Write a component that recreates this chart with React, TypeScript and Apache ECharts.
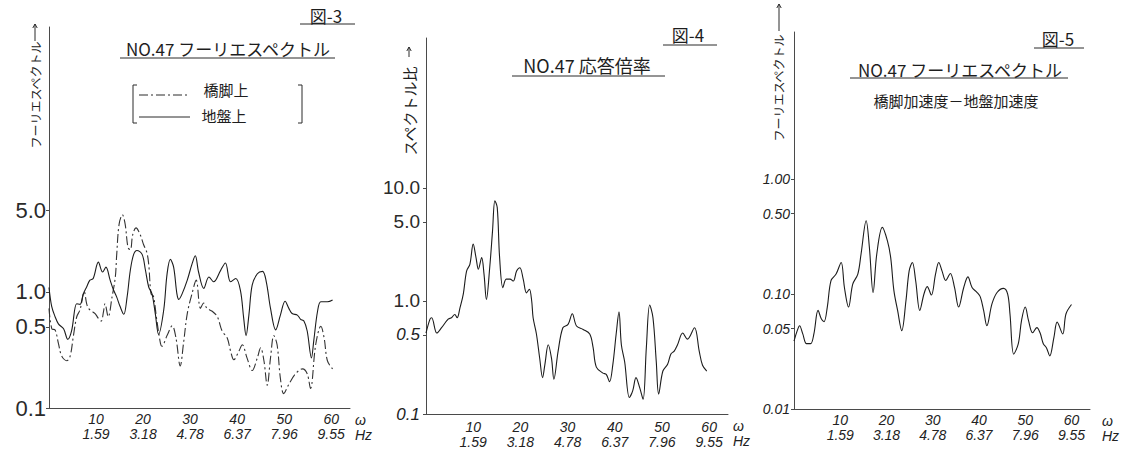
import React, { useEffect, useRef } from "react";
import * as echarts from "echarts";

// x axis: circular frequency ω (rad/s) with Hz equivalents
const omegaTicks = [10, 20, 30, 40, 50, 60];
const hzLabels = ["1.59", "3.18", "4.78", "6.37", "7.96", "9.55"];

// 図-3 y ticks
const fig3Ticks = [0.1, 0.5, 1, 5];
const fig3TickLabels = ["0.1", "0.5", "1.0", "5.0"];
// 図-4 y ticks
const fig4Ticks = [0.1, 0.5, 1, 5, 10];
const fig4TickLabels = ["0.1", "0.5", "1.0", "5.0", "10.0"];
// 図-5 y ticks
const fig5Ticks = [0.01, 0.05, 0.1, 0.5, 1];
const fig5TickLabels = ["0.01", "0.05", "0.10", "0.50", "1.00"];

// 図-3 橋脚上 (dash-dot) : [ω, spectrum]
const pierSpectrum: [number, number][] = [
  [0, 0.72], [0.6, 0.48], [1.3, 0.47], [2.0, 0.36], [2.7, 0.28], [3.8, 0.255], [4.5, 0.28],
  [5.2, 0.42], [5.9, 0.61], [6.6, 0.7], [7.5, 1.0], [8.0, 0.79], [8.4, 0.72], [9.1, 0.68],
  [9.8, 0.65], [10.5, 0.59], [11.1, 0.56], [11.6, 0.68], [11.9, 0.79], [12.6, 0.61],
  [13.4, 0.9], [14.1, 1.34], [14.4, 2.1], [14.9, 3.8], [15.6, 4.6], [16.2, 3.8], [16.8, 2.4],
  [17.3, 2.3], [17.8, 3.1], [18.5, 3.55], [19.4, 3.1], [20.1, 2.55], [20.8, 2.18], [21.2, 1.73],
  [21.7, 0.96], [22.2, 0.92], [22.9, 0.58], [23.7, 0.36], [24.0, 0.34], [25.1, 0.42],
  [26.2, 0.51], [27.0, 0.4], [27.9, 0.23], [28.6, 0.36], [29.4, 0.65], [30.4, 0.96],
  [31.3, 1.26], [32.2, 0.72], [32.9, 0.8], [33.6, 0.72], [34.7, 0.68], [35.8, 0.61],
  [36.8, 0.46], [37.9, 0.4], [38.6, 0.31], [39.3, 0.26], [40.4, 0.31], [41.1, 0.35],
  [42.1, 0.27], [43.2, 0.21], [44.3, 0.27], [45.0, 0.33], [45.7, 0.255], [46.4, 0.157],
  [47.1, 0.27], [47.8, 0.42], [48.5, 0.35], [49.2, 0.18], [49.9, 0.133], [51.0, 0.16],
  [52.4, 0.197], [53.9, 0.217], [54.9, 0.197], [55.6, 0.147], [56.7, 0.35], [57.8, 0.505],
  [58.5, 0.4], [59.2, 0.255], [60.3, 0.217],
];

// 図-3 地盤上 (solid)
const groundSpectrum: [number, number][] = [
  [0, 1.09], [0.57, 0.75], [1.3, 0.61], [2.0, 0.53], [3.1, 0.48], [4.0, 0.39], [4.8, 0.46],
  [5.9, 0.79], [6.6, 0.78], [7.3, 0.96], [8.0, 1.1], [8.7, 1.26], [9.4, 1.3], [10.5, 1.8],
  [11.4, 1.48], [12.1, 1.63], [13.0, 1.26], [13.7, 1.04], [14.4, 0.9], [15.1, 0.75],
  [15.9, 0.64], [16.6, 0.9], [17.3, 1.54], [18.0, 2.1], [18.7, 2.27], [19.8, 2.1],
  [20.5, 1.54], [21.2, 1.1], [21.9, 0.96], [22.6, 0.65], [23.3, 0.43], [24.4, 0.7],
  [25.1, 1.42], [25.8, 1.9], [26.5, 1.63], [27.2, 0.96], [27.6, 0.86], [28.3, 0.96],
  [29.4, 1.26], [30.4, 1.73], [31.1, 2.04], [31.8, 1.48], [32.9, 1.07], [34.0, 1.34],
  [35.0, 1.22], [36.5, 1.53], [37.5, 1.77], [38.6, 1.22], [39.7, 1.3], [40.7, 1.03],
  [41.4, 0.59], [41.9, 0.42], [42.5, 0.63], [43.2, 1.14], [44.3, 1.43], [45.4, 1.5],
  [46.2, 1.22], [47.1, 0.72], [48.2, 0.47], [49.2, 0.63], [50.2, 0.83], [51.0, 0.72],
  [51.7, 0.65], [52.8, 0.63], [53.5, 0.58], [54.2, 0.56], [54.9, 0.46], [55.8, 0.27],
  [56.3, 0.38], [57.1, 0.68], [57.8, 0.82], [59.2, 0.82], [60.3, 0.85],
];

// 図-4 応答倍率
const responseRatio: [number, number][] = [
  [0, 0.52], [0.85, 0.69], [1.2, 0.71], [2.3, 0.52], [3.3, 0.58], [4.7, 0.69], [5.4, 0.71],
  [6.1, 0.76], [6.6, 0.71], [7.2, 0.87], [7.9, 1.15], [8.6, 1.84], [9.3, 2.11], [10.0, 3.18],
  [10.6, 2.42], [11.1, 1.91], [11.8, 2.42], [12.3, 1.72], [12.8, 1.03], [13.5, 1.97],
  [14.1, 4.17], [14.6, 7.68], [15.1, 6.7], [15.6, 2.42], [16.3, 1.31], [17.0, 1.56],
  [17.8, 1.56], [18.5, 1.5], [19.2, 1.84], [19.9, 1.97], [20.6, 1.56], [21.3, 1.18],
  [21.9, 1.27], [22.4, 1.0], [22.7, 0.71], [23.4, 0.51], [24.1, 0.31], [24.7, 0.21],
  [25.2, 0.275], [25.9, 0.41], [26.6, 0.31], [27.1, 0.203], [28.0, 0.36], [29.0, 0.58],
  [30.1, 0.62], [31.0, 0.77], [31.9, 0.6], [33.3, 0.56], [34.7, 0.51], [35.4, 0.39],
  [36.1, 0.26], [37.5, 0.23], [38.2, 0.224], [38.9, 0.193], [39.6, 0.275], [40.3, 0.51],
  [40.9, 0.8], [41.4, 0.41], [42.1, 0.29], [43.1, 0.14], [43.8, 0.16], [44.5, 0.21],
  [45.3, 0.17], [46.0, 0.135], [46.7, 0.39], [47.4, 0.92], [48.1, 0.71], [48.8, 0.29],
  [49.3, 0.15], [50.2, 0.24], [51.2, 0.275], [51.9, 0.34], [52.6, 0.36], [53.3, 0.41],
  [54.4, 0.52], [55.4, 0.46], [56.9, 0.58], [57.9, 0.36], [58.6, 0.27], [59.5, 0.24],
];

// 図-5 橋脚加速度－地盤加速度
const accelDiffSpectrum: [number, number][] = [
  [0, 0.039], [0.7, 0.048], [1.2, 0.053], [1.9, 0.045], [2.7, 0.037], [3.6, 0.037],
  [4.3, 0.045], [5.2, 0.072], [5.9, 0.061], [6.5, 0.0575], [7.2, 0.077], [8.0, 0.131],
  [9.1, 0.149], [10.2, 0.188], [10.9, 0.114], [11.8, 0.077], [12.7, 0.122], [13.8, 0.149],
  [14.5, 0.223], [15.6, 0.434], [16.3, 0.254], [17.1, 0.103], [17.9, 0.223], [19.1, 0.38],
  [20.2, 0.29], [20.9, 0.208], [21.6, 0.107], [22.4, 0.072], [23.3, 0.048], [24.2, 0.087],
  [24.9, 0.159], [25.6, 0.188], [26.3, 0.131], [27.2, 0.072], [28.1, 0.1], [28.8, 0.116],
  [29.7, 0.098], [30.6, 0.149], [31.3, 0.188], [32.0, 0.159], [32.8, 0.131], [33.8, 0.151],
  [34.7, 0.114], [35.6, 0.077], [36.7, 0.114], [37.6, 0.141], [38.5, 0.114], [39.6, 0.103],
  [40.3, 0.094], [41.0, 0.072], [41.7, 0.053], [42.8, 0.082], [43.9, 0.103], [45.3, 0.112],
  [46.2, 0.1], [46.7, 0.067], [47.5, 0.03], [48.5, 0.037], [49.2, 0.059], [50.0, 0.077],
  [50.7, 0.059], [51.6, 0.046], [52.5, 0.051], [53.2, 0.046], [53.9, 0.037], [54.6, 0.034],
  [55.3, 0.029], [56.2, 0.042], [56.9, 0.057], [58.1, 0.045], [58.8, 0.067], [60.0, 0.081],
];

const INK = "#1c1c1c";
const AXIS = "#4a4a4a";
const HAND = "'Liberation Sans', 'DejaVu Sans', sans-serif";
const JP = "'Noto Sans CJK JP', sans-serif";

function xAxisFor(gridIndex: number) {
  return {
    type: "value",
    gridIndex,
    min: 0,
    max: 64,
    axisLine: { show: true, lineStyle: { color: AXIS, width: 1 } },
    axisTick: { show: false },
    splitLine: { show: false },
    axisLabel: {
      customValues: omegaTicks,
      formatter: (v: number) => {
        const i = omegaTicks.indexOf(Math.round(v));
        return `${Math.round(v)}\n${i >= 0 ? hzLabels[i] : ""}`;
      },
      fontFamily: HAND,
      fontStyle: "italic",
      fontSize: 14,
      lineHeight: 15,
      color: "#222",
      margin: gridIndex === 1 ? 5 : 3,
    },
    name: "ω\nHz",
    nameLocation: "end",
    nameGap: gridIndex === 2 ? 12 : 5,
    nameTextStyle: {
      fontFamily: HAND,
      fontStyle: "italic",
      fontSize: 14,
      lineHeight: 15,
      color: "#222",
      align: "left",
      verticalAlign: "top",
      padding: [4, 0, 0, 0],
    },
  };
}

function yAxisFor(
  gridIndex: number,
  min: number,
  max: number,
  ticks: number[],
  labels: string[],
  labelFmt: (s: string) => string,
  fontSize: number,
  margin: number
) {
  return {
    type: "log",
    logBase: 10,
    gridIndex,
    min,
    max,
    axisLine: { show: true, lineStyle: { color: AXIS, width: 1 } },
    axisTick: { show: true, customValues: ticks, length: 3, lineStyle: { color: AXIS } },
    splitLine: { show: false },
    axisLabel: {
      customValues: ticks,
      formatter: (v: number) => {
        let best = 0;
        for (let i = 0; i < ticks.length; i++) {
          if (Math.abs(Math.log10(ticks[i]) - Math.log10(v)) < Math.abs(Math.log10(ticks[best]) - Math.log10(v))) best = i;
        }
        return labelFmt(labels[best]);
      },
      fontFamily: HAND,
      fontSize,
      color: "#222",
      margin,
      rich: {
        u: { fontFamily: HAND, fontSize, color: "#2a2a2a" },
        i: { fontFamily: HAND, fontSize: fontSize - 2, fontStyle: "italic", color: "#222" },
      },
    },
  };
}

function lineSeries(name: string, idx: number, data: [number, number][], dashed: boolean) {
  return {
    name,
    type: "line",
    xAxisIndex: idx,
    yAxisIndex: idx,
    data,
    showSymbol: false,
    smooth: 0.35,
    lineStyle: {
      color: dashed ? "#333" : INK,
      width: 1.1,
      type: dashed ? [9, 3, 2, 3] : "solid",
    },
  };
}

function txt(text: string, x: number, y: number, fontSize: number, extra: any = {}) {
  return {
    type: "text",
    x,
    y,
    silent: true,
    ...extra,
    style: {
      text,
      fontSize,
      fontFamily: JP,
      fill: "#1e1e1e",
      align: "center",
      verticalAlign: "middle",
      ...(extra.style || {}),
    },
  };
}

function ln(x1: number, y1: number, x2: number, y2: number, dash?: number[]) {
  return {
    type: "line",
    silent: true,
    shape: { x1, y1, x2, y2 },
    style: { stroke: "#2a2a2a", lineWidth: 1, lineDash: dash },
  };
}

function pl(points: number[][]) {
  return {
    type: "polyline",
    silent: true,
    shape: { points },
    style: { stroke: "#2a2a2a", lineWidth: 1, fill: "none" },
  };
}

// upward arrow: shaft from yBottom to yTop at x, with a small head
function upArrow(x: number, yBottom: number, yTop: number) {
  return [ln(x, yBottom, x, yTop), pl([[x - 2.2, yTop + 4], [x, yTop], [x + 2.2, yTop + 4]])];
}

export default function App() {
  const ref = useRef<HTMLDivElement>(null);

  useEffect(() => {
    if (!ref.current) return;
    const chart = echarts.init(ref.current, undefined, { renderer: "svg" });

    const option: any = {
      animation: false,
      backgroundColor: "#ffffff",
      grid: [
        { left: 49, top: 27, width: 301, height: 381 },
        { left: 426, top: 38, width: 302, height: 376 },
        { left: 794, top: 32, width: 296, height: 377 },
      ],
      xAxis: [xAxisFor(0), xAxisFor(1), xAxisFor(2)],
      yAxis: [
        yAxisFor(0, 0.1, 190, fig3Ticks, fig3TickLabels, (s) => `{u|${s}}`, 22, 3),
        yAxisFor(1, 0.1, 212, fig4Ticks, fig4TickLabels, (s) => (s === "0.5" || s === "0.1" ? `{i|${s}}` : `{u|${s}}`), 19, 6),
        yAxisFor(2, 0.01, 19, fig5Ticks, fig5TickLabels, (s) => `{i|${s}}`, 16, 4),
      ],
      series: [
        lineSeries("橋脚上", 0, pierSpectrum, true),
        lineSeries("地盤上", 0, groundSpectrum, false),
        lineSeries("応答倍率", 1, responseRatio, false),
        lineSeries("橋脚加速度－地盤加速度", 2, accelDiffSpectrum, false),
      ],
      graphic: [
        // 図-3
        txt("図-3", 326, 15, 17),
        ln(300, 24, 355, 24),
        txt("NO.47 フーリエスペクトル", 228, 48, 17),
        ln(120, 58, 335, 58),
        pl([[137, 85], [133, 85], [133, 123], [137, 123]]),
        pl([[298, 85], [302, 85], [302, 123], [298, 123]]),
        ln(139, 95, 190, 95, [9, 3, 2, 3]),
        txt("橋脚上", 226, 89, 15),
        ln(139, 117, 190, 117),
        txt("地盤上", 224, 115, 15),
        txt("フーリエスペクトル", 35, 95, 12, { rotation: Math.PI / 2 }),
        ...upArrow(35, 41, 24),
        // 図-4
        txt("図-4", 688, 34, 17),
        ln(663, 45, 717, 45),
        txt("NO.47 応答倍率", 587, 65, 18),
        ln(512, 76, 665, 76),
        txt("スペクトル比", 409, 111, 15, { rotation: Math.PI / 2 }),
        ...upArrow(409, 57, 47),
        // 図-5
        txt("図-5", 1058, 38, 17),
        ln(1034, 48, 1084, 48),
        txt("NO.47 フーリエスペクトル", 960, 69, 17),
        ln(850, 78, 1068, 78),
        txt("橋脚加速度－地盤加速度", 956, 100, 15),
        txt("フーリエスペクトル", 778, 88, 12, { rotation: Math.PI / 2 }),
        ...upArrow(779, 31, 4),
      ],
    };

    chart.setOption(option);
    return () => chart.dispose();
  }, []);

  return (
    <div
      ref={ref}
      style={{ position: "fixed", left: 0, top: 0, width: 1137, height: 454, background: "#fff" }}
    />
  );
}
